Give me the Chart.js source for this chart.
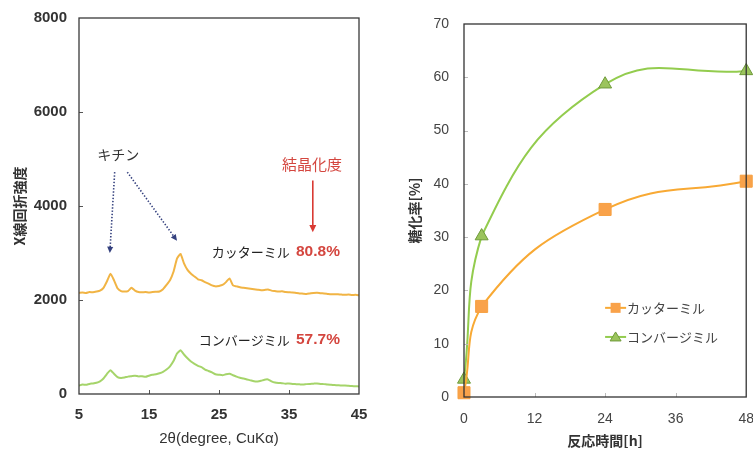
<!DOCTYPE html>
<html>
<head>
<meta charset="utf-8">
<script src="https://cdn.jsdelivr.net/npm/chart.js@4.4.0/dist/chart.umd.min.js"></script>
<style>
  html, body { margin: 0; padding: 0; background: #fff; overflow: hidden; width: 753px; height: 453px; }
  #leftPanel  { position: absolute; left: 0;     top: -3px; width: 380px; height: 456px; }
  #rightPanel { position: absolute; left: 380px; top: 0;    width: 388px; height: 453px; }
</style>
</head>
<body>
<div id="leftPanel"><canvas id="xrdChart" width="380" height="456"></canvas></div>
<div id="rightPanel"><canvas id="yieldChart" width="388" height="453"></canvas></div>
<script>
// ---- X-ray diffraction patterns (2θ, CuKα) ----
const twoTheta = [
  5, 5.5, 6, 6.5, 7, 7.5, 8, 8.5, 9, 9.5,
  10, 10.5, 11, 11.5, 12, 12.5, 13, 13.5, 14, 14.5,
  15, 15.5, 16, 16.5, 17, 17.5, 18, 18.5, 19, 19.5,
  20, 20.5, 21, 21.5, 22, 22.5, 23, 23.5, 24, 24.5,
  25, 25.5, 26, 26.5, 27, 27.5, 28, 28.5, 29, 29.5,
  30, 30.5, 31, 31.5, 32, 32.5, 33, 33.5, 34, 34.5,
  35, 35.5, 36, 36.5, 37, 37.5, 38, 38.5, 39, 39.5,
  40, 40.5, 41, 41.5, 42, 42.5, 43, 43.5, 44, 44.5,
  45
];
const cutterXrd = [
  2150, 2160, 2150, 2170, 2165, 2180, 2200, 2260, 2400, 2560,
  2420, 2250, 2190, 2180, 2190, 2260, 2200, 2170, 2165, 2170,
  2160, 2170, 2175, 2180, 2230, 2320, 2420, 2600, 2880, 2980,
  2780, 2640, 2560, 2500, 2440, 2420, 2380, 2350, 2310, 2290,
  2300, 2320, 2380, 2460, 2310, 2290, 2270, 2260, 2250, 2240,
  2230, 2220, 2210, 2215, 2225, 2200, 2190, 2180, 2185, 2170,
  2165, 2160, 2150, 2140, 2135, 2130, 2140, 2150, 2155, 2145,
  2140, 2130, 2120, 2125, 2120, 2115, 2110, 2115, 2105, 2110,
  2100
];
const convergeXrd = [
  180, 200, 195, 215, 225, 240, 270, 330, 430, 505,
  430, 360, 340, 350, 370, 380, 390, 375, 380, 365,
  390, 410, 420, 440, 470, 520, 590, 700, 860, 930,
  840, 760, 690, 640, 600, 570, 520, 490, 460, 420,
  410, 400, 420, 430, 400, 370, 345, 330, 310, 290,
  270, 265, 280, 305, 310, 270, 245, 235, 230, 220,
  225, 215, 210, 205, 200, 210, 215, 220, 225, 215,
  210, 200, 195, 190, 185, 180, 180, 175, 170, 165,
  160
];
const xrdTicksX = [5, 15, 25, 35, 45];
const xrdTicksY = [0, 2000, 4000, 6000, 8000];

// ---- Saccharification yield vs reaction time ----
const hours = [0, 3, 24, 48];
const cutterYield = [0.8, 17.0, 35.2, 40.5];
const convergeYield = [3.3, 30.2, 58.7, 61.2];
const yieldTicksX = [0, 12, 24, 36, 48];
const yieldTicksY = [0, 10, 20, 30, 40, 50, 60, 70];

const millNames = ['カッターミル', 'コンバージミル'];
const crystallinity = ['80.8%', '57.7%'];

const LATIN = '"Liberation Sans", Arial, sans-serif';
const JP = '"Noto Sans CJK JP", "Liberation Sans", sans-serif';

function pairs(xs, ys) { return xs.map((v, i) => ({ x: v, y: ys[i] })); }

// box frame + short inward ticks
function framePlugin(color, tickColor) {
  return {
    id: 'frameBox',
    afterDatasetsDraw(chart) {
      const { ctx, chartArea: a, scales: { x, y } } = chart;
      ctx.save();
      ctx.strokeStyle = tickColor; ctx.lineWidth = 1;
      ctx.beginPath();
      x.ticks.forEach(t => {
        const px = Math.round(x.getPixelForValue(t.value)) + 0.5;
        if (px > a.left + 2 && px < a.right - 2) { ctx.moveTo(px, a.bottom); ctx.lineTo(px, a.bottom - 4); }
      });
      y.ticks.forEach(t => {
        const py = Math.round(y.getPixelForValue(t.value)) + 0.5;
        if (py > a.top + 2 && py < a.bottom - 2) { ctx.moveTo(a.left, py); ctx.lineTo(a.left + 4, py); }
      });
      ctx.stroke();
      ctx.strokeStyle = color; ctx.lineWidth = 1.3;
      ctx.strokeRect(a.left, a.top, a.right - a.left, a.bottom - a.top);
      ctx.restore();
    }
  };
}

function arrowHead(ctx, x0, y0, x1, y1, size) {
  const ang = Math.atan2(y1 - y0, x1 - x0);
  ctx.beginPath();
  ctx.moveTo(x1, y1);
  ctx.lineTo(x1 - size * Math.cos(ang - 0.45), y1 - size * Math.sin(ang - 0.45));
  ctx.lineTo(x1 - size * Math.cos(ang + 0.45), y1 - size * Math.sin(ang + 0.45));
  ctx.closePath();
  ctx.fill();
}

// labels and arrows placed in data coordinates on the XRD panel
const xrdNotes = {
  id: 'xrdNotes',
  afterDatasetsDraw(chart) {
    const { ctx, scales: { x, y } } = chart;
    const px = v => x.getPixelForValue(v), py = v => y.getPixelForValue(v);
    ctx.save();
    ctx.textBaseline = 'middle';

    // chitin peaks
    ctx.font = '14px ' + JP; ctx.fillStyle = '#333'; ctx.textAlign = 'center';
    ctx.fillText('キチン', px(10.6), py(5085));
    ctx.strokeStyle = '#34407e'; ctx.fillStyle = '#34407e'; ctx.lineWidth = 1.6;
    ctx.setLineDash([1.4, 1.8]);
    const chitin = [[10.1, 4720, 9.4, 3000], [11.9, 4720, 19.0, 3260]];
    chitin.forEach(([a, b, c, d]) => {
      const x0 = px(a), y0 = py(b), x1 = px(c), y1 = py(d);
      const ang = Math.atan2(y1 - y0, x1 - x0);
      ctx.beginPath(); ctx.moveTo(x0, y0); ctx.lineTo(x1 - 5 * Math.cos(ang), y1 - 5 * Math.sin(ang)); ctx.stroke();
    });
    ctx.setLineDash([]);
    chitin.forEach(([a, b, c, d]) => arrowHead(ctx, px(a), py(b), px(c), py(d), 7));

    // crystallinity header + arrow
    ctx.font = '15px ' + JP; ctx.fillStyle = '#d4463f'; ctx.textAlign = 'center';
    ctx.fillText('結晶化度', px(38.3), py(4890));
    ctx.strokeStyle = '#d93a33'; ctx.fillStyle = '#d93a33'; ctx.lineWidth = 1.6;
    ctx.beginPath(); ctx.moveTo(px(38.4), py(4540)); ctx.lineTo(px(38.4), py(3560)); ctx.stroke();
    arrowHead(ctx, px(38.4), py(4540), px(38.4), py(3440), 8);

    // sample names with crystallinity
    const rows = [[3020, 0], [1150, 1]];
    rows.forEach(([yy, i]) => {
      ctx.font = '13px ' + JP; ctx.fillStyle = '#222'; ctx.textAlign = 'right';
      ctx.fillText(millNames[i], px(35.1), py(yy));
      ctx.font = 'bold 15.5px ' + LATIN; ctx.fillStyle = '#d4463f'; ctx.textAlign = 'left';
      ctx.fillText(crystallinity[i], px(36.0), py(yy));
    });
    ctx.restore();
  }
};

// legend drawn inside the plot area of the yield panel
const yieldLegend = {
  id: 'yieldLegend',
  afterDatasetsDraw(chart) {
    const { ctx, chartArea: a } = chart;
    const x0 = a.left + (a.right - a.left) * 0.5;
    const rowsY = [a.top + (a.bottom - a.top) * 0.761, a.top + (a.bottom - a.top) * 0.839];
    ctx.save();
    chart.data.datasets.forEach((ds, i) => {
      const yy = rowsY[i];
      ctx.strokeStyle = ds.borderColor; ctx.lineWidth = 2;
      ctx.beginPath(); ctx.moveTo(x0, yy); ctx.lineTo(x0 + 21, yy); ctx.stroke();
      ctx.fillStyle = ds.pointBackgroundColor; ctx.strokeStyle = ds.pointBorderColor; ctx.lineWidth = 1;
      const cx = x0 + 10.5;
      if (ds.pointStyle === 'rect') {
        ctx.fillRect(cx - 5, yy - 5, 10, 10);
      } else {
        ctx.beginPath(); ctx.moveTo(cx, yy - 5); ctx.lineTo(cx + 5.5, yy + 4); ctx.lineTo(cx - 5.5, yy + 4); ctx.closePath();
        ctx.fill(); ctx.stroke();
      }
      ctx.font = '13px ' + JP; ctx.fillStyle = '#444'; ctx.textAlign = 'left'; ctx.textBaseline = 'middle';
      ctx.fillText(ds.label, x0 + 22, yy);
    });
    ctx.restore();
  }
};

const plainNumber = v => String(v);

// ---------- left: XRD ----------
new Chart(document.getElementById('xrdChart'), {
  type: 'line',
  data: {
    datasets: [
      { label: millNames[0], data: pairs(twoTheta, cutterXrd), borderColor: 'rgba(240,176,58,0.95)', borderWidth: 2, pointRadius: 0, tension: 0.15 },
      { label: millNames[1], data: pairs(twoTheta, convergeXrd), borderColor: 'rgba(160,210,98,0.95)', borderWidth: 2, pointRadius: 0, tension: 0.15 }
    ]
  },
  options: {
    responsive: false,
    animation: false,
    layout: { padding: { top: 15, right: 21, bottom: 0, left: 0 } },
    plugins: { legend: { display: false }, tooltip: { enabled: false } },
    scales: {
      x: {
        type: 'linear', min: 5, max: 45,
        afterBuildTicks: s => { s.ticks = xrdTicksX.map(v => ({ value: v })); },
        afterFit: s => { s.height = 59; },
        grid: { display: false, drawTicks: false },
        border: { display: false },
        ticks: { color: '#333', padding: 12, maxRotation: 0, callback: plainNumber, font: { family: LATIN, size: 15, weight: 'bold' } },
        title: { display: true, text: '2θ(degree, CuKα)', color: '#333', padding: 5, font: { family: LATIN, size: 15 } }
      },
      y: {
        min: 0, max: 8000,
        afterBuildTicks: s => { s.ticks = xrdTicksY.map(v => ({ value: v })); },
        afterFit: s => { s.width = 79; },
        grid: { display: false, drawTicks: false },
        border: { display: false },
        ticks: { color: '#333', padding: 12, callback: plainNumber, font: { family: LATIN, size: 15, weight: 'bold' } },
        title: { display: true, text: 'X線回折強度', color: '#333', padding: 11, font: { family: JP, size: 14, weight: 'bold' } }
      }
    }
  },
  plugins: [framePlugin('#3a3a3a', '#555'), xrdNotes]
});

// ---------- right: saccharification yield ----------
new Chart(document.getElementById('yieldChart'), {
  type: 'line',
  data: {
    datasets: [
      { label: millNames[0], data: pairs(hours, cutterYield), borderColor: '#f8a934', borderWidth: 2,
        pointStyle: 'rect', pointRadius: 8.5, pointBackgroundColor: '#f9a24a', pointBorderColor: '#f7a040', pointBorderWidth: 1,
        tension: 0.45, clip: false },
      { label: millNames[1], data: pairs(hours, convergeYield), borderColor: '#93cc4e', borderWidth: 2,
        pointStyle: 'triangle', pointRadius: 7.5, pointBackgroundColor: '#9bc45c', pointBorderColor: '#6f9a3a', pointBorderWidth: 1,
        tension: 0.45, clip: false }
    ]
  },
  options: {
    responsive: false,
    animation: false,
    layout: { padding: { top: 24, right: 6, bottom: 0, left: 0 } },
    plugins: { legend: { display: false }, tooltip: { enabled: false } },
    scales: {
      x: {
        type: 'linear', min: 0, max: 48,
        afterBuildTicks: s => { s.ticks = yieldTicksX.map(v => ({ value: v })); },
        afterFit: s => { s.height = 56; },
        grid: { display: false, drawTicks: false },
        border: { display: false },
        ticks: { color: '#444', padding: 14, maxRotation: 0, callback: plainNumber, font: { family: LATIN, size: 14 } },
        title: { display: true, text: '反応時間[h]', color: '#333', padding: 4, font: { family: JP, size: 14, weight: 'bold' } }
      },
      y: {
        min: 0, max: 70,
        afterBuildTicks: s => { s.ticks = yieldTicksY.map(v => ({ value: v })); },
        afterFit: s => { s.width = 84; },
        grid: { display: false, drawTicks: false },
        border: { display: false },
        ticks: { color: '#444', padding: 15, callback: plainNumber, font: { family: LATIN, size: 14 } },
        title: { display: true, text: '糖化率[%]', color: '#333', padding: 26, font: { family: JP, size: 14, weight: 'bold' } }
      }
    }
  },
  plugins: [framePlugin('#333', '#bbb'), yieldLegend]
});
</script>
</body>
</html>
